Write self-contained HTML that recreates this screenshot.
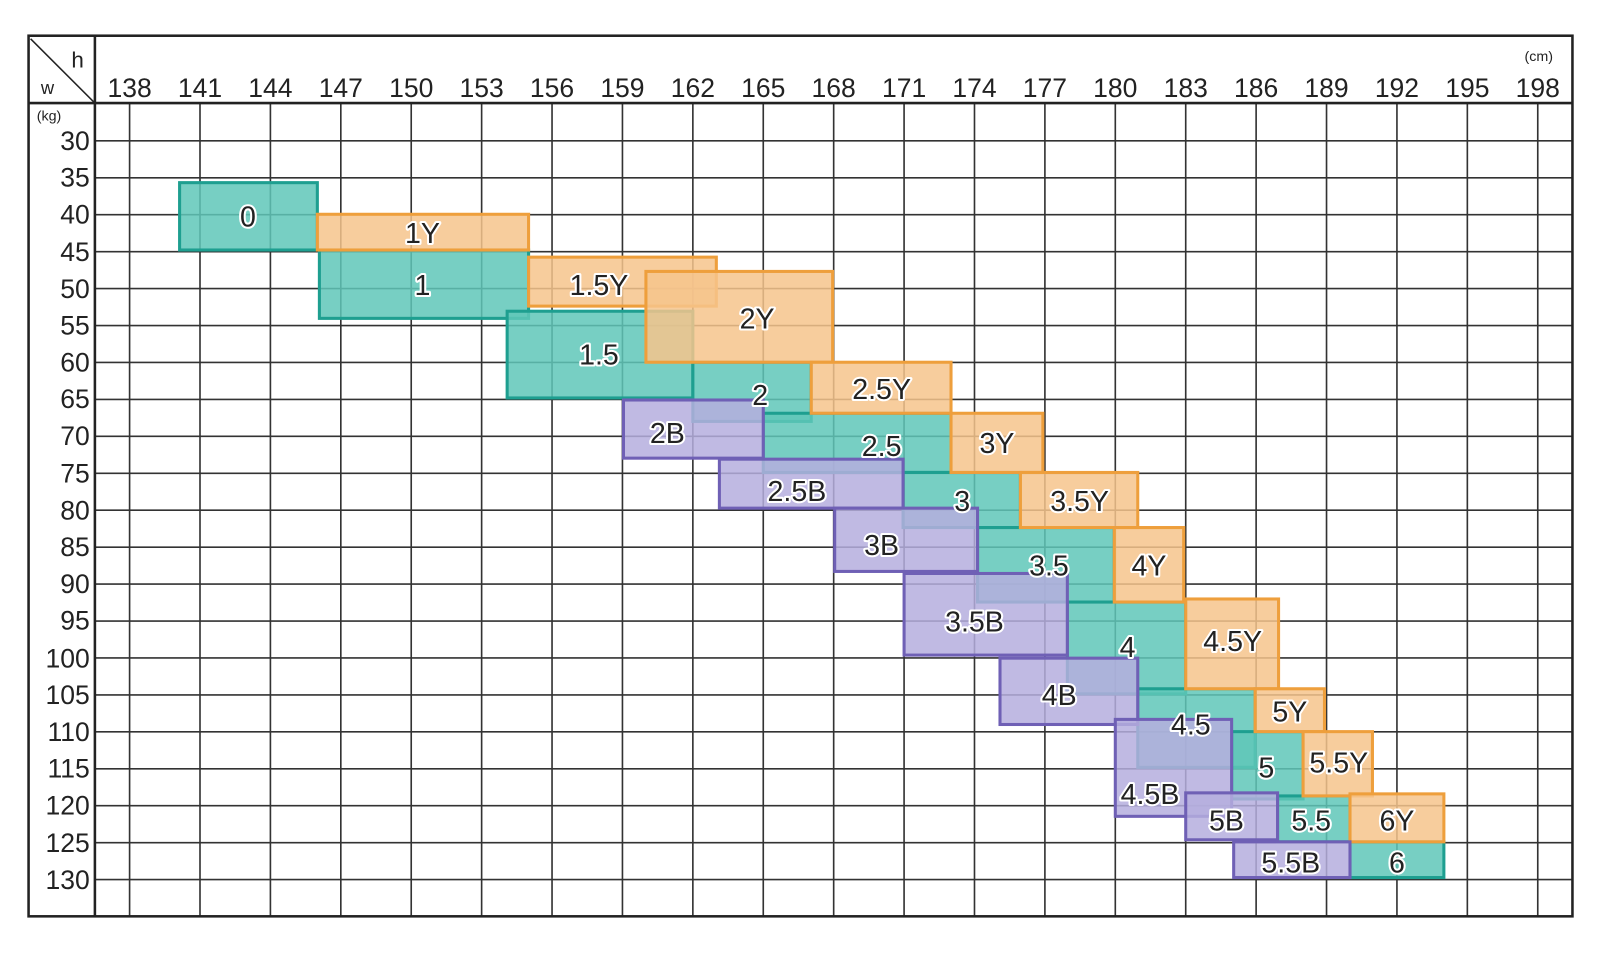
<!DOCTYPE html>
<html><head><meta charset="utf-8"><style>html,body{margin:0;padding:0;background:#fff;}</style></head><body>
<svg width="1600" height="960" viewBox="0 0 1568 940.8" preserveAspectRatio="none" xmlns="http://www.w3.org/2000/svg" font-family="Liberation Sans, sans-serif" style="display:block">
<rect width="1568" height="941" fill="#fff"/>
<g stroke="#333" stroke-width="1.6">
<line x1="127" y1="101" x2="127" y2="898"/><line x1="196" y1="101" x2="196" y2="898"/><line x1="265" y1="101" x2="265" y2="898"/><line x1="334" y1="101" x2="334" y2="898"/><line x1="403" y1="101" x2="403" y2="898"/><line x1="472" y1="101" x2="472" y2="898"/><line x1="541" y1="101" x2="541" y2="898"/><line x1="610" y1="101" x2="610" y2="898"/><line x1="679" y1="101" x2="679" y2="898"/><line x1="748" y1="101" x2="748" y2="898"/><line x1="817" y1="101" x2="817" y2="898"/><line x1="886" y1="101" x2="886" y2="898"/><line x1="955" y1="101" x2="955" y2="898"/><line x1="1024" y1="101" x2="1024" y2="898"/><line x1="1093" y1="101" x2="1093" y2="898"/><line x1="1162" y1="101" x2="1162" y2="898"/><line x1="1231" y1="101" x2="1231" y2="898"/><line x1="1300" y1="101" x2="1300" y2="898"/><line x1="1369" y1="101" x2="1369" y2="898"/><line x1="1438" y1="101" x2="1438" y2="898"/><line x1="1507" y1="101" x2="1507" y2="898"/>
<line x1="93" y1="138" x2="1541" y2="138"/><line x1="93" y1="174.2" x2="1541" y2="174.2"/><line x1="93" y1="210.4" x2="1541" y2="210.4"/><line x1="93" y1="246.6" x2="1541" y2="246.6"/><line x1="93" y1="282.8" x2="1541" y2="282.8"/><line x1="93" y1="319" x2="1541" y2="319"/><line x1="93" y1="355.2" x2="1541" y2="355.2"/><line x1="93" y1="391.4" x2="1541" y2="391.4"/><line x1="93" y1="427.6" x2="1541" y2="427.6"/><line x1="93" y1="463.8" x2="1541" y2="463.8"/><line x1="93" y1="500" x2="1541" y2="500"/><line x1="93" y1="536.2" x2="1541" y2="536.2"/><line x1="93" y1="572.4" x2="1541" y2="572.4"/><line x1="93" y1="608.6" x2="1541" y2="608.6"/><line x1="93" y1="644.8" x2="1541" y2="644.8"/><line x1="93" y1="681" x2="1541" y2="681"/><line x1="93" y1="717.2" x2="1541" y2="717.2"/><line x1="93" y1="753.4" x2="1541" y2="753.4"/><line x1="93" y1="789.6" x2="1541" y2="789.6"/><line x1="93" y1="825.8" x2="1541" y2="825.8"/><line x1="93" y1="862" x2="1541" y2="862"/>
</g>
<g stroke="#222" stroke-width="2.5" fill="none">
<rect x="28" y="35" width="1513" height="863"/>
<line x1="28" y1="101" x2="1541" y2="101"/>
<line x1="93" y1="35" x2="93" y2="898"/>
<line x1="30" y1="38" x2="92" y2="100" stroke-width="1.5"/>
</g>
<g font-size="26" fill="#222" text-anchor="middle">
<text x="127" y="95">138</text><text x="196" y="95">141</text><text x="265" y="95">144</text><text x="334" y="95">147</text><text x="403" y="95">150</text><text x="472" y="95">153</text><text x="541" y="95">156</text><text x="610" y="95">159</text><text x="679" y="95">162</text><text x="748" y="95">165</text><text x="817" y="95">168</text><text x="886" y="95">171</text><text x="955" y="95">174</text><text x="1024" y="95">177</text><text x="1093" y="95">180</text><text x="1162" y="95">183</text><text x="1231" y="95">186</text><text x="1300" y="95">189</text><text x="1369" y="95">192</text><text x="1438" y="95">195</text><text x="1507" y="95">198</text>
</g>
<text x="1508" y="60" font-size="14" fill="#222" text-anchor="middle">(cm)</text>
<text x="70" y="66" font-size="22" fill="#222">h</text>
<text x="40" y="92" font-size="18" fill="#222">w</text>
<text x="36" y="118" font-size="14" fill="#222">(kg)</text>
<g font-size="26" fill="#222" text-anchor="end">
<text x="88" y="147">30</text><text x="88" y="183">35</text><text x="88" y="219">40</text><text x="88" y="256">45</text><text x="88" y="292">50</text><text x="88" y="328">55</text><text x="88" y="364">60</text><text x="88" y="400">65</text><text x="88" y="436">70</text><text x="88" y="473">75</text><text x="88" y="509">80</text><text x="88" y="545">85</text><text x="88" y="581">90</text><text x="88" y="617">95</text><text x="88" y="654">100</text><text x="88" y="690">105</text><text x="88" y="726">110</text><text x="88" y="762">115</text><text x="88" y="798">120</text><text x="88" y="835">125</text><text x="88" y="871">130</text>
</g>
<g stroke-width="3">
<g fill="#5fc7b8" fill-opacity="0.85" stroke="#1e9f90">
<rect x="176" y="179" width="135" height="66"/>
<rect x="313" y="245" width="205" height="67"/>
<rect x="497" y="305" width="182" height="85"/>
<rect x="679" y="355" width="116" height="58"/>
<rect x="748" y="405" width="184" height="58"/>
<rect x="885" y="463" width="115" height="54"/>
<rect x="958" y="517" width="134" height="73"/>
<rect x="1046" y="590" width="116" height="90"/>
<rect x="1115" y="675" width="115" height="77"/>
<rect x="1207" y="717" width="70" height="66"/>
<rect x="1252" y="780" width="71" height="45"/>
<rect x="1323" y="825" width="92" height="35"/>
</g>
<g fill="#f6c48c" fill-opacity="0.85" stroke="#ee9f3c">
<rect x="311" y="210" width="207" height="35"/>
<rect x="518" y="252" width="184" height="48"/>
<rect x="633" y="266" width="183" height="89"/>
<rect x="795" y="355" width="137" height="50"/>
<rect x="932" y="405" width="90" height="58"/>
<rect x="1000" y="463" width="115" height="54"/>
<rect x="1092" y="517" width="68" height="73"/>
<rect x="1162" y="587" width="91" height="88"/>
<rect x="1230" y="675" width="68" height="42"/>
<rect x="1277" y="717" width="68" height="63"/>
<rect x="1323" y="778" width="92" height="47"/>
</g>
<g fill="#b5aede" fill-opacity="0.85" stroke="#6f60b5">
<rect x="611" y="392" width="137" height="57"/>
<rect x="705" y="450" width="180" height="48"/>
<rect x="818" y="498" width="140" height="62"/>
<rect x="886" y="562" width="160" height="80"/>
<rect x="980" y="645" width="135" height="65"/>
<rect x="1093" y="705" width="114" height="95"/>
<rect x="1162" y="777" width="90" height="46"/>
<rect x="1209" y="825" width="114" height="35"/>
</g>
</g>
<g font-size="28" fill="#222" text-anchor="middle" stroke="#fff" stroke-width="4" paint-order="stroke" stroke-linejoin="round">
<text x="243" y="222">0</text><text x="414" y="238">1Y</text><text x="414" y="289">1</text>
<text x="587" y="289">1.5Y</text><text x="742" y="322">2Y</text><text x="587" y="357">1.5</text>
<text x="745" y="397">2</text><text x="864" y="391">2.5Y</text><text x="654" y="434">2B</text>
<text x="864" y="447">2.5</text><text x="977" y="444">3Y</text><text x="781" y="491">2.5B</text>
<text x="943" y="501">3</text><text x="1058" y="501">3.5Y</text><text x="864" y="544">3B</text>
<text x="1028" y="564">3.5</text><text x="1126" y="564">4Y</text><text x="955" y="619">3.5B</text>
<text x="1105" y="644">4</text><text x="1208" y="638">4.5Y</text><text x="1038" y="691">4B</text>
<text x="1167" y="720">4.5</text><text x="1264" y="707">5Y</text><text x="1241" y="762">5</text>
<text x="1312" y="757">5.5Y</text><text x="1127" y="788">4.5B</text><text x="1202" y="814">5B</text>
<text x="1285" y="814">5.5</text><text x="1369" y="814">6Y</text><text x="1265" y="855">5.5B</text><text x="1369" y="855">6</text>
</g>
</svg>
</body></html>
